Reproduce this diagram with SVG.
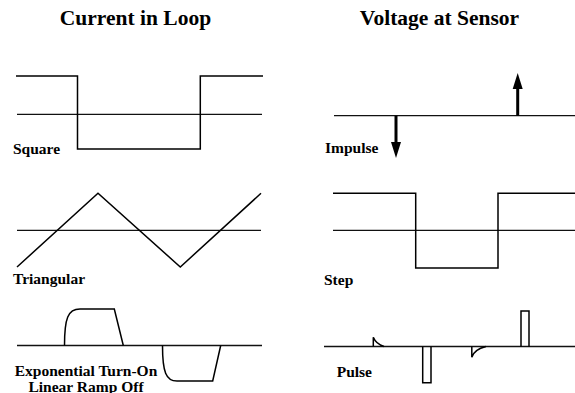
<svg xmlns="http://www.w3.org/2000/svg" width="575" height="393" viewBox="0 0 575 393">
<style>
.title{font-weight:bold;font-size:21.5px;fill:#000}
.lbl{font-weight:bold;font-size:15.5px;fill:#000}
.axis{stroke:#111;stroke-width:1.3;fill:none}
.wave{stroke:#000;stroke-width:1.5;fill:none;stroke-linejoin:miter}
.imp{stroke:#000;stroke-width:3;fill:none}
.head{fill:#000;stroke:none}
</style>
<rect width="575" height="393" fill="#fff"/>
<g id="titles" font-family="'Liberation Serif', 'DejaVu Serif', serif">
<text class="title" x="135.5" y="25" text-anchor="middle">Current in Loop</text>
<text class="title" x="439.5" y="25" text-anchor="middle">Voltage at Sensor</text>
</g>
<g id="square" font-family="'Liberation Serif', 'DejaVu Serif', serif">
<line class="axis" x1="17" y1="114.3" x2="262" y2="114.3"/>
<path class="wave" d="M16,76 L77.5,76 L77.5,149 L200.3,149 L200.3,76 L263,76"/>
<text class="lbl" x="13" y="154">Square</text>
</g>
<g id="impulse" font-family="'Liberation Serif', 'DejaVu Serif', serif">
<line class="axis" x1="334" y1="115.7" x2="575" y2="115.7"/>
<line class="imp" x1="396" y1="115.7" x2="396" y2="145"/>
<polygon class="head" points="391,142 401,142 396,158"/>
<line class="imp" x1="517.7" y1="115.7" x2="517.7" y2="86"/>
<polygon class="head" points="512.7,89 522.7,89 517.7,73"/>
<text class="lbl" x="325" y="153">Impulse</text>
</g>
<g id="triangular" font-family="'Liberation Serif', 'DejaVu Serif', serif">
<line class="axis" x1="17" y1="230.3" x2="261" y2="230.3"/>
<path class="wave" d="M17,267 L98,193.3 L180.3,267 L261,193.3"/>
<text class="lbl" x="13" y="284">Triangular</text>
</g>
<g id="step" font-family="'Liberation Serif', 'DejaVu Serif', serif">
<line class="axis" x1="333" y1="230.3" x2="575" y2="230.3"/>
<path class="wave" d="M333,193.3 L415.7,193.3 L415.7,268 L498,268 L498,193.3 L575,193.3"/>
<text class="lbl" x="324" y="285">Step</text>
</g>
<g id="exponential" font-family="'Liberation Serif', 'DejaVu Serif', serif">
<line class="axis" x1="17" y1="345.5" x2="262" y2="345.5"/>
<path class="wave" d="M64.5,345.5 C64.5,318 68,309 80,309 L114.3,309 L123.3,345.5"/>
<path class="wave" d="M162.5,345.5 C162.5,372 166,381 177,381 L212.7,381 L220.7,345.5"/>
<text class="lbl" x="86" y="376" text-anchor="middle">Exponential Turn-On</text>
<text class="lbl" x="86" y="392" text-anchor="middle">Linear Ramp Off</text>
</g>
<g id="pulse" font-family="'Liberation Serif', 'DejaVu Serif', serif">
<line class="axis" x1="324" y1="346.5" x2="575" y2="346.5"/>
<path class="wave" d="M373.3,346.5 L373.3,337.3 Q376,344 384,346.5"/>
<path class="wave" d="M422.7,346.5 L422.7,382.7 L431,382.7 L431,346.5"/>
<path class="wave" d="M471.8,346.5 L471.8,357.3 Q474,349.5 486,346.5"/>
<path class="wave" d="M521,346.5 L521,311 L529,311 L529,346.5"/>
<text class="lbl" x="336.7" y="377">Pulse</text>
</g>
</svg>
